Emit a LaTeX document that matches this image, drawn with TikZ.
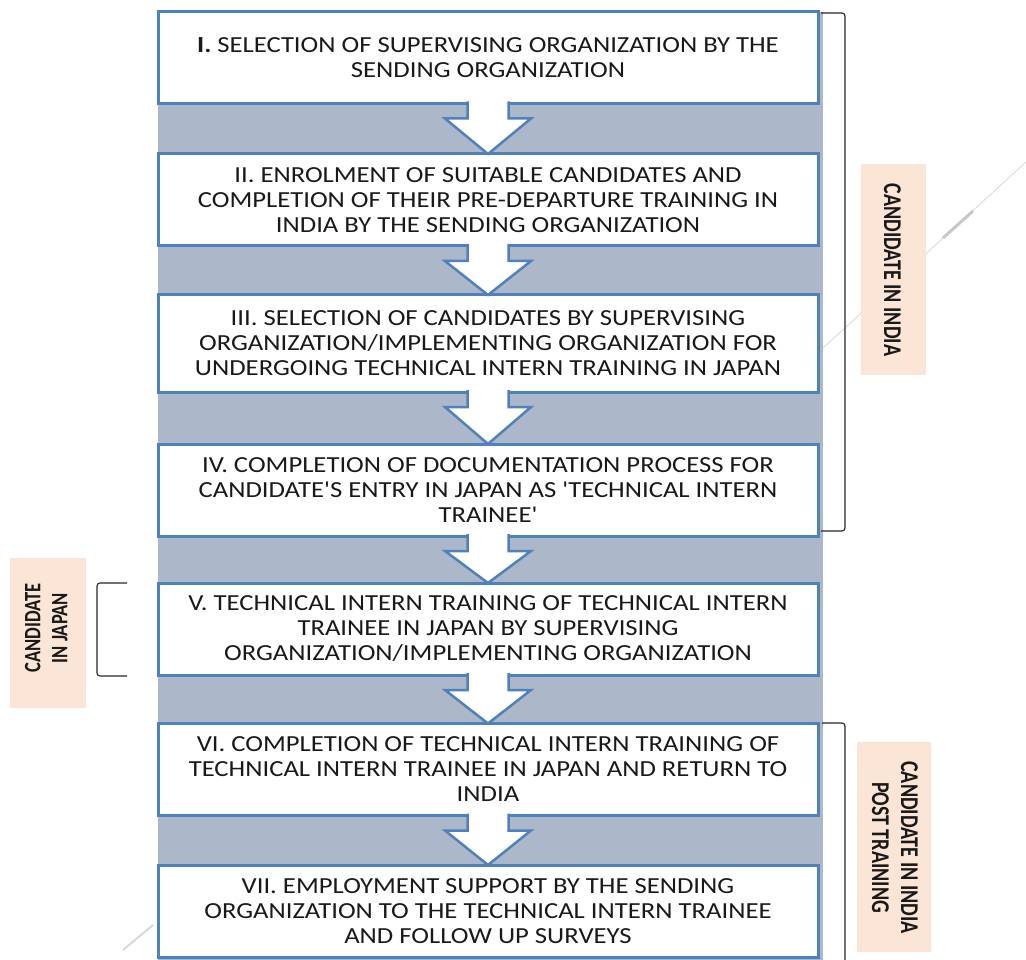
\documentclass[tikz,border=0pt]{standalone}
\usepackage{fontspec}
\usepackage{graphicx}
\usetikzlibrary{calc}
\newfontfamily\boxfont{Carlito}[FakeStretch=1.16, Ligatures=TeXOff]
\newfontfamily\tagfont{Carlito}
\definecolor{panel}{RGB}{172,183,201}
\definecolor{boxline}{RGB}{79,129,189}
\definecolor{tagfill}{RGB}{251,229,214}
\definecolor{ink}{RGB}{25,25,25}
\definecolor{faint}{RGB}{222,222,222}

% block arrow from the bottom of one step to the top of the next
\newcommand\flowarrow[2]{%
  \filldraw[flow] ($(#1.south)+(-20.5,-2)$) -- ($(#1.south)+(-20.5,15)$)
    -- ($(#1.south)+(-43,15)$) -- (#2.north) -- ($(#1.south)+(43,15)$)
    -- ($(#1.south)+(20.5,15)$) -- ($(#1.south)+(20.5,-2)$);}

\begin{document}
\begin{tikzpicture}[x=1pt,y=-1pt,
  stepbox/.style={draw=boxline, line width=3pt, fill=white,
    minimum width=660pt, minimum height=92pt, outer sep=0pt, inner sep=0pt,
    align=center, text=ink, font=\boxfont\fontsize{23}{25}\selectfont},
  flow/.style={draw=boxline, line width=2.5pt, fill=white, line join=miter},
  tag/.style={fill=tagfill, inner sep=0pt, outer sep=0pt},
  tagtext/.style={text=ink, inner sep=0pt},
  brace/.style={draw=black!85, line width=1.1pt, rounded corners=3pt}]

\useasboundingbox (0,0) rectangle (1026,960);

% faint guide strokes behind everything
\draw[faint, line width=1pt] (823,348) -- (1026,162);
\draw[black!22, line width=3pt] (943,238) -- (973,211);
\draw[black!15, line width=2pt] (123,950) -- (153,925);

% grey panel behind the steps
\fill[panel] (158,12) rectangle (823,960);

% process steps
\node[stepbox] (b1) at (488,57.5)
  {\textbf{I.} SELECTION OF SUPERVISING ORGANIZATION BY THE\\SENDING ORGANIZATION};
\node[stepbox] (b2) at (488,200)
  {II. ENROLMENT OF SUITABLE CANDIDATES AND\\COMPLETION OF THEIR PRE-DEPARTURE TRAINING IN\\INDIA BY THE SENDING ORGANIZATION};
\node[stepbox, minimum height=97pt] (b3) at (488,343.5)
  {III. SELECTION OF CANDIDATES BY SUPERVISING\\ORGANIZATION/IMPLEMENTING ORGANIZATION FOR\\UNDERGOING TECHNICAL INTERN TRAINING IN JAPAN};
\node[stepbox] (b4) at (488,490)
  {IV. COMPLETION OF DOCUMENTATION PROCESS FOR\\CANDIDATE'S ENTRY IN JAPAN AS 'TECHNICAL INTERN\\TRAINEE'};
\node[stepbox] (b5) at (488,629)
  {V. TECHNICAL INTERN TRAINING OF TECHNICAL INTERN\\TRAINEE IN JAPAN BY SUPERVISING\\ORGANIZATION/IMPLEMENTING ORGANIZATION};
\node[stepbox] (b6) at (488,769.5)
  {VI. COMPLETION OF TECHNICAL INTERN TRAINING OF\\TECHNICAL INTERN TRAINEE IN JAPAN AND RETURN TO\\INDIA};
\node[stepbox] (b7) at (488,911)
  {VII. EMPLOYMENT SUPPORT BY THE SENDING\\ORGANIZATION TO THE TECHNICAL INTERN TRAINEE\\AND FOLLOW UP SURVEYS};

\foreach \a/\b in {b1/b2,b2/b3,b3/b4,b4/b5,b5/b6,b6/b7}
  \flowarrow{\a}{\b};

% phase brackets
\draw[brace] (821,13) -- (845,13) -- (845,531) -- (821,531);
\draw[brace] (127,583) -- (97,583) -- (97,676) -- (127,676);
\draw[brace] (822,723) -- (845,723) -- (845,966);

% phase tags
\node[tag, minimum width=65pt, minimum height=211pt] (india) at (893.5,269.5) {};
\node[tagtext, rotate=-90, font=\tagfont\bfseries\fontsize{20}{22.7}\selectfont]
  (indiatxt) at (892.5,270) {\scalebox{1}[1.28]{CANDIDATE IN INDIA}};

\node[tag, minimum width=76pt, minimum height=150pt] (japan) at (48,633) {};
\node[tagtext, rotate=90, font=\tagfont\bfseries\fontsize{18.5}{21.3}\selectfont]
  (japantxt) at (48.5,628) {\scalebox{1}[1.27]{\begin{tabular}{@{}c@{}}CANDIDATE\\IN JAPAN\end{tabular}}};

\node[tag, minimum width=74pt, minimum height=210pt] (post) at (894,847) {};
\node[tagtext, rotate=-90, font=\tagfont\bfseries\fontsize{20}{22.7}\selectfont]
  (posttxt) at (892.5,847.5) {\scalebox{1}[1.28]{\begin{tabular}{@{}c@{}}CANDIDATE IN INDIA\\POST TRAINING\end{tabular}}};

\end{tikzpicture}
\end{document}
